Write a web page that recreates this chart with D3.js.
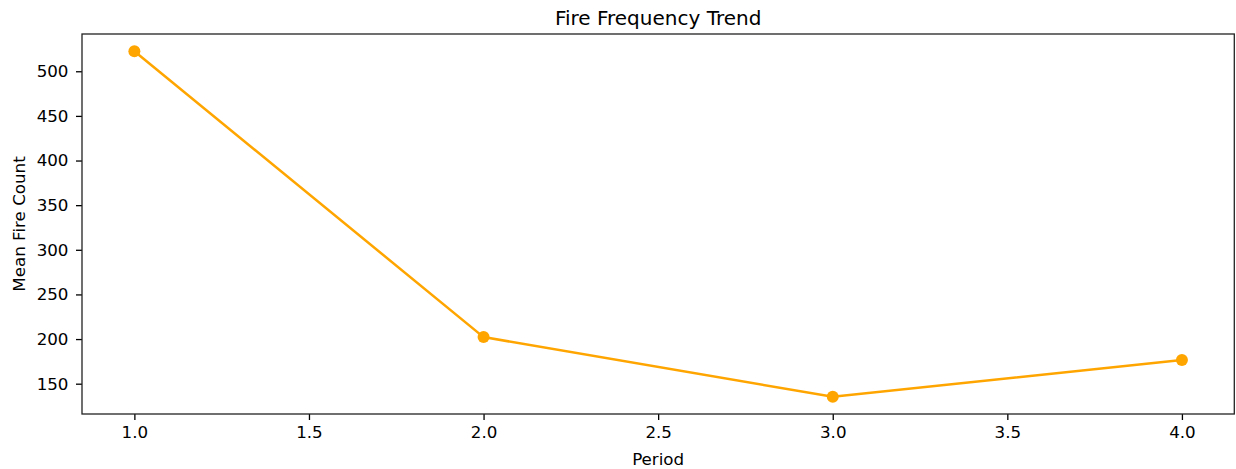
<!DOCTYPE html>
<html>
<head>
<meta charset="utf-8">
<script src="https://cdn.jsdelivr.net/npm/d3@7"></script>
<style>
  body { margin: 0; background: #fff; }
  text { font-family: "DejaVu Sans", sans-serif; fill: #000; }
</style>
</head>
<body>
<div id="chart"></div>
<script>
// data
var periods = [1, 2, 3, 4];
var meanFireCount = [522.4, 202.2, 135.4, 176.5];
var xTicks = [1.0, 1.5, 2.0, 2.5, 3.0, 3.5, 4.0];
var yTicks = [150, 200, 250, 300, 350, 400, 450, 500];

var svgWidth = 1236, svgHeight = 469;
var margin = { top: 34, right: 1.7, bottom: 55, left: 82 };
var width = svgWidth - margin.left - margin.right;
var height = svgHeight - margin.top - margin.bottom;

var svg = d3.select("#chart").append("svg")
    .attr("width", svgWidth)
    .attr("height", svgHeight);

var chartGroup = svg.append("g")
    .attr("transform", `translate(${margin.left}, ${margin.top})`);

// matplotlib style 5% padding
function padded(vals) {
    var lo = d3.min(vals), hi = d3.max(vals), pad = (hi - lo) * 0.05;
    return [lo - pad, hi + pad];
}

var xScale = d3.scaleLinear().domain(padded(periods)).range([0, width]);
var yScale = d3.scaleLinear().domain(padded(meanFireCount)).range([height, 0]);

var bottomAxis = d3.axisBottom(xScale).tickValues(xTicks).tickFormat(d3.format(".1f")).tickSize(6).tickPadding(6.5);
var leftAxis = d3.axisLeft(yScale).tickValues(yTicks).tickSize(6).tickPadding(7.5);

var xAxis = chartGroup.append("g")
    .attr("transform", `translate(0, ${height})`)
    .call(bottomAxis);
var yAxis = chartGroup.append("g").call(leftAxis);

[xAxis, yAxis].forEach(a => {
    a.select(".domain").remove();
    a.attr("font-size", null).attr("font-family", null);
    a.selectAll("text").style("font-size", "16.7px").attr("fill", "#000");
    a.selectAll("line").attr("stroke", "#000").attr("stroke-width", 1.3);
});

// frame
chartGroup.append("rect")
    .attr("x", 0).attr("y", 0)
    .attr("width", width).attr("height", height)
    .attr("fill", "none")
    .attr("stroke", "#222")
    .attr("stroke-width", 1.3);

var pts = periods.map((p, i) => ({ x: p, y: meanFireCount[i] }));

var line = d3.line().x(d => xScale(d.x)).y(d => yScale(d.y));

chartGroup.append("path")
    .datum(pts)
    .attr("d", line)
    .attr("fill", "none")
    .attr("stroke", "#FFA500")
    .attr("stroke-width", 2.5);

chartGroup.selectAll("circle")
    .data(pts)
    .enter()
    .append("circle")
    .attr("cx", d => xScale(d.x))
    .attr("cy", d => yScale(d.y))
    .attr("r", 6)
    .attr("fill", "#FFA500");

// title and labels
svg.append("text")
    .attr("x", margin.left + width / 2)
    .attr("y", 25)
    .attr("text-anchor", "middle")
    .style("font-size", "20px")
    .text("Fire Frequency Trend");

svg.append("text")
    .attr("x", margin.left + width / 2)
    .attr("y", 465)
    .attr("text-anchor", "middle")
    .style("font-size", "16.7px")
    .text("Period");

svg.append("text")
    .attr("transform", "rotate(-90)")
    .attr("x", -(margin.top + height / 2))
    .attr("y", 25)
    .attr("text-anchor", "middle")
    .style("font-size", "16.7px")
    .text("Mean Fire Count");
</script>
</body>
</html>
